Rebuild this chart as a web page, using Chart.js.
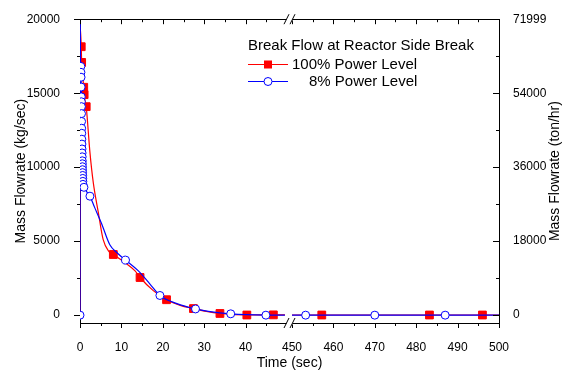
<!DOCTYPE html>
<html>
<head>
<meta charset="utf-8">
<script src="https://cdn.jsdelivr.net/npm/chart.js@4.4.1/dist/chart.umd.min.js"></script>
<style>
    html, body { margin: 0; padding: 0; background: #fff; }
    canvas { display: block; }
</style>
</head>
<body>
<canvas id="chart" width="565" height="376"></canvas>
<script>
// Break flow, 100% power level (red): curve points and square markers
var redLineTime = [0, 0.05, 0.3, 0.4, 0.9, 1.0, 1.5, 2.4, 3.2, 4.4, 5.6, 7.0, 8.05, 10.9, 13.3, 14.5, 17.7, 20.9, 24.2, 27.4, 30.5, 33.8, 40.3, 46.7, 49.5,
    450, 457.2, 470, 483.2, 496, 500];
var redLineFlow = [0, 19500, 18140, 17080, 15400, 14900, 14090, 11000, 8970, 6980, 5100, 4300, 4100, 3540, 2990, 2545, 1660, 1043, 665, 445, 250, 113, 10, 20, 20,
    10, 10, 10, 10, 10, 10];
var redMarkTime = [0.3, 0.4, 0.9, 1.0, 1.5, 8.05, 14.5, 20.9, 27.4, 33.8, 40.3, 46.7, 457.2, 483.2, 496];
var redMarkFlow = [18140, 17080, 15400, 14900, 14090, 4100, 2545, 1043, 445, 113, 10, 20, 10, 10, 10];

// Break flow, 8% power level (blue): curve points and circle markers
var blueLineTime = [0, 0.03, 0.12, 0.2, 0.22, 0.25, 0.27, 0.3, 0.32, 0.34, 0.36, 0.38, 0.4, 0.42, 0.44, 0.46, 0.48, 0.5, 0.52, 0.54,
    0.56, 0.58, 0.6, 0.62, 0.64, 0.66, 0.68, 0.7, 0.72, 0.95, 1.6, 2.4, 3.5, 5.2, 7.2, 9.0, 11.0, 14.1, 16.9, 19.3, 23.4, 27.9, 31.0,
    36.4, 44.9, 49.5, 450, 453.3, 470, 487, 500];
var blueLineFlow = [0, 21000, 17400, 16810, 16410, 16080, 15415, 14750, 14420, 14090, 13620, 13090, 12630, 12290, 11890, 11560, 11230, 10960, 10700, 10430,
    10230, 10030, 9830, 9630, 9440, 9240, 9040, 8840, 8750, 8640, 8350, 8040, 7300, 6200, 4760, 4200, 3720, 2990, 2100, 1330, 780, 420, 260,
    90, 5, 0, 0, 0, 0, 0, 0];
var blueMarkTime = [0, 0.2, 0.22, 0.25, 0.27, 0.3, 0.32, 0.34, 0.36, 0.38, 0.4, 0.42, 0.44, 0.46, 0.48, 0.5, 0.52, 0.54, 0.56, 0.58,
    0.6, 0.62, 0.64, 0.66, 0.68, 0.7, 0.95, 2.4, 11.0, 19.3, 27.9, 36.4, 44.9, 453.3, 470, 487];
var blueMarkFlow = [0, 16810, 16410, 16080, 15415, 14750, 14420, 14090, 13620, 13090, 12630, 12290, 11890, 11560, 11230, 10960, 10700, 10430, 10230, 10030,
    9830, 9630, 9440, 9240, 9040, 8840, 8640, 8040, 3720, 1330, 420, 90, 0, 0, 0, 0];

var timeTicks = [0, 10, 20, 30, 40, 450, 460, 470, 480, 490, 500];
var kgTicks = [0, 5000, 10000, 15000, 20000];
var tonTicks = [0, 18000, 36000, 54000, 72000];

(function () {
    'use strict';

    var BREAK_LO = 50;
    var BREAK_HI = 450;
    var GAP = 1.2;
    var KG_MIN = -530;
    var KG_MAX = 20000;
    var TON_PER_KG = 3.6;
    var FONT = '"Liberation Sans", Arial, sans-serif';
    var RED = '#ff0000';
    var BLUE = '#0000ff';

    // axis is broken: 0-50 s then 450-500 s
    function axisX(t) {
        return t <= BREAK_LO ? t : t - BREAK_HI + BREAK_LO + GAP;
    }

    function realT(x) {
        return x <= BREAK_LO + GAP / 2 ? x : x - BREAK_LO - GAP + BREAK_HI;
    }

    function toPoints(ts, vs) {
        var pts = [];
        for (var i = 0; i < ts.length; i++) {
            if (i > 0 && ts[i - 1] <= BREAK_LO && ts[i] >= BREAK_HI) {
                pts.push({ x: BREAK_LO + GAP / 2, y: null });
            }
            pts.push({ x: axisX(ts[i]), y: vs[i] });
        }
        return pts;
    }

    function crisp(v) {
        return Math.round(v) + 0.5;
    }

    var framePlugin = {
        id: 'frame',
        afterDraw: function (chart) {
            var ctx = chart.ctx;
            var a = chart.chartArea;
            var sx = chart.scales.x;
            var sy = chart.scales.y;
            var s2 = chart.scales.y2;
            var t, v, px, py, len;

            ctx.save();
            ctx.strokeStyle = '#000';
            ctx.lineWidth = 1;

            // top frame line
            ctx.beginPath();
            ctx.moveTo(a.left, crisp(a.top - 0.5));
            ctx.lineTo(a.right, crisp(a.top - 0.5));
            ctx.stroke();

            ctx.beginPath();
            // x ticks, outward at bottom, inward at top
            for (t = 0; t <= 500; t += 5) {
                if (t > 45 && t < 450) {
                    continue;
                }
                px = crisp(sx.getPixelForValue(axisX(t)));
                len = t % 10 === 0 ? 5 : 3;
                ctx.moveTo(px, a.bottom);
                ctx.lineTo(px, a.bottom + len);
                ctx.moveTo(px, a.top);
                ctx.lineTo(px, a.top + len);
            }
            // left ticks outward
            for (v = 0; v <= 20000; v += 2500) {
                py = crisp(sy.getPixelForValue(v));
                len = v % 5000 === 0 ? 6 : 3;
                ctx.moveTo(a.left - len, py);
                ctx.lineTo(a.left, py);
            }
            // right ticks inward
            for (v = 0; v <= 72000; v += 9000) {
                py = crisp(s2.getPixelForValue(v));
                len = v % 18000 === 0 ? 6 : 3;
                ctx.moveTo(a.right - len, py);
                ctx.lineTo(a.right, py);
            }
            ctx.stroke();

            // axis break marks
            var cx = (sx.getPixelForValue(BREAK_LO) + sx.getPixelForValue(BREAK_LO + GAP)) / 2;
            [a.top, a.bottom].forEach(function (yy) {
                ctx.fillStyle = '#fff';
                ctx.fillRect(cx - 3, yy - 2, 6, 4);
                ctx.beginPath();
                ctx.moveTo(cx - 5.5, yy + 5);
                ctx.lineTo(cx - 0.5, yy - 5);
                ctx.moveTo(cx + 0.5, yy + 5);
                ctx.lineTo(cx + 5.5, yy - 5);
                ctx.stroke();
            });

            // right axis title, reading bottom to top
            ctx.fillStyle = '#000';
            ctx.font = '14px ' + FONT;
            ctx.textAlign = 'center';
            ctx.textBaseline = 'middle';
            ctx.save();
            ctx.translate(555, (a.top + a.bottom) / 2);
            ctx.rotate(-Math.PI / 2);
            ctx.fillText('Mass Flowrate (ton/hr)', 0, 0);
            ctx.restore();

            // legend
            ctx.font = '15px ' + FONT;
            ctx.textAlign = 'left';
            ctx.fillText('Break Flow at Reactor Side Break', 248, 46);
            ctx.fillText('100% Power Level', 292, 65);
            ctx.fillText('8% Power Level', 309, 82);

            ctx.lineWidth = 1.2;
            ctx.strokeStyle = RED;
            ctx.beginPath();
            ctx.moveTo(248, 64.5);
            ctx.lineTo(288, 64.5);
            ctx.stroke();
            ctx.fillStyle = RED;
            ctx.fillRect(264, 60.5, 8, 8);

            ctx.strokeStyle = BLUE;
            ctx.beginPath();
            ctx.moveTo(248, 81.5);
            ctx.lineTo(288, 81.5);
            ctx.stroke();
            ctx.fillStyle = '#fff';
            ctx.beginPath();
            ctx.arc(268, 81.5, 4, 0, Math.PI * 2);
            ctx.fill();
            ctx.lineWidth = 1;
            ctx.stroke();

            ctx.restore();
        }
    };

    Chart.defaults.font.family = FONT;
    Chart.defaults.color = '#000';

    new Chart(document.getElementById('chart'), {
        type: 'line',
        data: {
            datasets: [{
                label: '8% Power Level markers',
                data: toPoints(blueMarkTime, blueMarkFlow),
                showLine: false,
                pointStyle: 'circle',
                pointRadius: 4,
                pointBorderWidth: 1,
                pointBackgroundColor: '#fff',
                pointBorderColor: BLUE
            }, {
                label: '8% Power Level',
                data: toPoints(blueLineTime, blueLineFlow),
                borderColor: BLUE,
                borderWidth: 1.2,
                pointRadius: 0,
                cubicInterpolationMode: 'monotone',
                spanGaps: false,
                fill: false
            }, {
                label: '100% Power Level markers',
                data: toPoints(redMarkTime, redMarkFlow),
                showLine: false,
                pointStyle: 'rect',
                pointRadius: 5.5,
                pointBorderWidth: 1,
                pointBackgroundColor: RED,
                pointBorderColor: RED
            }, {
                label: '100% Power Level',
                data: toPoints(redLineTime, redLineFlow),
                borderColor: RED,
                borderWidth: 1.2,
                pointRadius: 0,
                cubicInterpolationMode: 'monotone',
                spanGaps: false,
                fill: false
            }]
        },
        options: {
            responsive: false,
            animation: false,
            layout: { padding: { top: 14, left: 0, right: 0, bottom: 0 } },
            plugins: {
                legend: { display: false },
                tooltip: { enabled: false }
            },
            scales: {
                x: {
                    type: 'linear',
                    position: 'bottom',
                    min: 0,
                    max: axisX(500),
                    grid: { display: false },
                    border: { color: '#000', width: 1 },
                    afterBuildTicks: function (scale) {
                        scale.ticks = timeTicks.map(function (t) {
                            return { value: axisX(t) };
                        });
                    },
                    afterFit: function (scale) {
                        scale.height = 53;
                    },
                    ticks: {
                        autoSkip: false,
                        maxRotation: 0,
                        padding: 9,
                        font: { size: 12 },
                        callback: function (v) {
                            return String(Math.round(realT(v)));
                        }
                    },
                    title: {
                        display: true,
                        text: 'Time (sec)',
                        font: { size: 14 },
                        padding: { top: 0, bottom: 4 }
                    }
                },
                y: {
                    position: 'left',
                    min: KG_MIN,
                    max: KG_MAX,
                    grid: { display: false },
                    border: { color: '#000', width: 1 },
                    afterBuildTicks: function (scale) {
                        scale.ticks = kgTicks.map(function (v) {
                            return { value: v };
                        });
                    },
                    afterFit: function (scale) {
                        scale.width = 80;
                    },
                    ticks: {
                        padding: 12,
                        font: { size: 12 },
                        callback: function (v) {
                            return String(v);
                        }
                    },
                    title: {
                        display: true,
                        text: 'Mass Flowrate (kg/sec)',
                        font: { size: 14 },
                        padding: { top: 13, bottom: 0 }
                    }
                },
                y2: {
                    position: 'right',
                    min: KG_MIN * TON_PER_KG,
                    max: KG_MAX * TON_PER_KG,
                    grid: { display: false },
                    border: { color: '#000', width: 1 },
                    afterBuildTicks: function (scale) {
                        scale.ticks = tonTicks.map(function (v) {
                            return { value: v };
                        });
                    },
                    afterFit: function (scale) {
                        scale.width = 66;
                    },
                    ticks: {
                        padding: 6,
                        font: { size: 12 },
                        callback: function (v) {
                            return v === 72000 ? '71999' : String(v);
                        }
                    }
                }
            }
        },
        plugins: [framePlugin]
    });
})();
</script>
</body>
</html>
